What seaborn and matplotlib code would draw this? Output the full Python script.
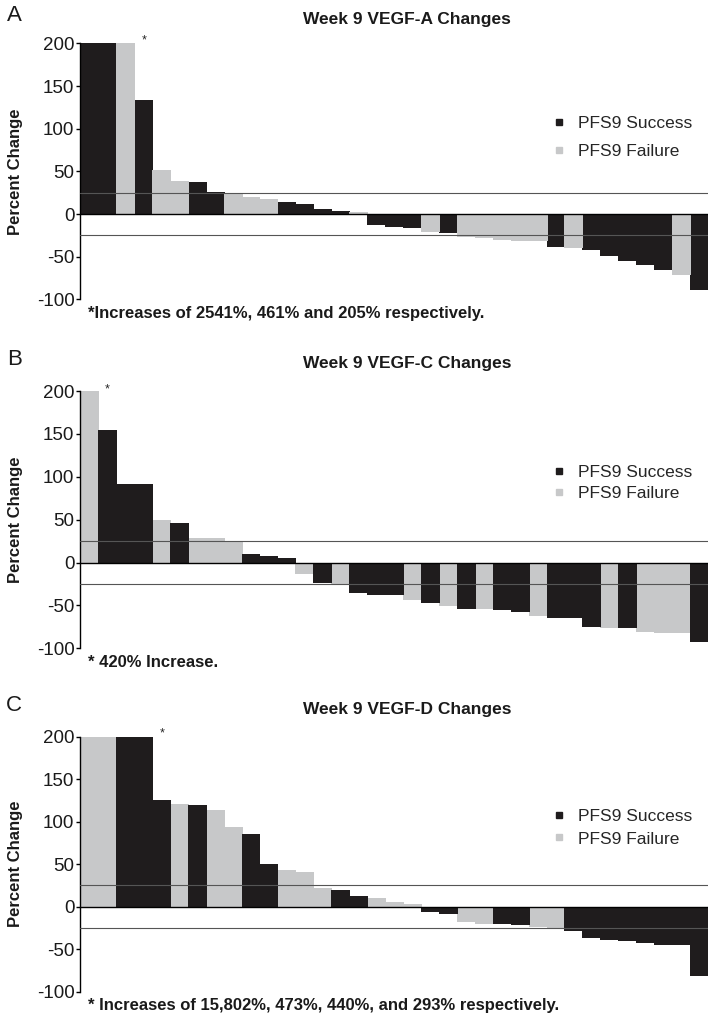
import numpy as np
import pandas as pd
import matplotlib
matplotlib.use("Agg")
import matplotlib.pyplot as plt
from matplotlib.lines import Line2D
import seaborn as sns

# bar values (% change, sorted); values above 200 are clipped by the axis
vegf_a = [2541, 461, 205, 134, 52, 39, 38, 26, 25, 20, 17, 14, 12, 6, 3, 2,
          -12, -14, -15, -19.5, -21.5, -25.5, -27, -29, -30, -30.5, -37, -38.5,
          -40.5, -48, -54, -58.5, -65, -70.5, -87.5]
vegf_a_group = list("SSFSFFSSFFFSSSSFSSSFSFFFFFSFSSSSSFS")

vegf_c = [420, 154, 92, 91, 50, 45.5, 29, 28, 25, 10, 7.5, 5.5, -12, -23, -24,
          -34, -37, -37, -42, -46, -49, -52.5, -53.5, -54, -56.5, -61, -63, -64,
          -74, -75, -75.5, -79.5, -81, -81, -91]
vegf_c_group = list("FSSSFSFFFSSSFSFSSSFSFSFSSFSSSFSFFFS")

vegf_d = [15802, 473, 440, 293, 126, 121, 120, 114, 94, 85, 50, 43.5, 41, 22.5,
          19.5, 13, 10.5, 6, 3.5, -5, -7, -17, -19, -19, -20.5, -23, -23.5, -27,
          -35.5, -37.5, -39.5, -42, -44, -44.5, -80]
vegf_d_group = list("FFSSSFSFFSSFFFSSFFFSSFFSSFFSSSSSSSS")

titles = ["Week 9 VEGF-A Changes", "Week 9 VEGF-C Changes", "Week 9 VEGF-D Changes"]
letters = ["A", "B", "C"]
notes = ["*Increases of 2541%, 461% and 205% respectively.",
         "* 420% Increase.",
         "* Increases of 15,802%, 473%, 440%, and 293% respectively."]
star_pos = [(3.1, 203), (1.0, 202), (4.1, 204)]
ticks = [-100, -50, 0, 50, 100, 150, 200]

group_names = {"S": "PFS9 Success", "F": "PFS9 Failure"}
palette = {"PFS9 Success": "#1f1c1d", "PFS9 Failure": "#c7c8c9"}

sns.set_theme(style="white")
plt.rcParams['font.family'] = ['Liberation Sans', 'DejaVu Sans']
plt.rcParams['axes.unicode_minus'] = False

fig = plt.figure(figsize=(7.17, 10.22), dpi=100)

panels = [(vegf_a, vegf_a_group), (vegf_c, vegf_c_group), (vegf_d, vegf_d_group)]
boxes = [[0.1116, 0.7071, 0.8759, 0.2505],
         [0.1116, 0.3657, 0.8759, 0.2517],
         [0.1116, 0.0297, 0.8759, 0.2495]]
title_y = [0.9814, 0.6448, 0.3053]
letter_y = [0.9853, 0.6478, 0.3092]
legend_y = [0.632, 0.642, 0.642]
legend_sp = [0.75, 0.35, 0.4]

for i, (vals, grp) in enumerate(panels):
    df = pd.DataFrame({"patient": np.arange(len(vals)),
                       "change": vals,
                       "group": [group_names[g] for g in grp]})
    ax = fig.add_axes(boxes[i])
    sns.barplot(data=df, x="patient", y="change", hue="group", palette=palette,
                dodge=False, width=1.0, saturation=1, legend=False, ax=ax)
    for p in ax.patches:
        p.set_edgecolor(p.get_facecolor())
        p.set_linewidth(0.6)
        p.set_antialiased(False)

    ax.set_xlim(-0.5, len(vals) - 0.5)
    ax.set_ylim(-100, 200)
    ax.set_yticks(ticks)
    ax.set_xticks([])
    ax.set_xlabel("")
    ax.set_ylabel("")
    for s in ["top", "right", "bottom"]:
        ax.spines[s].set_visible(False)
    ax.spines["left"].set_color("black")
    ax.spines["left"].set_linewidth(1.0)
    ax.tick_params(axis="y", left=True, length=3, width=1, pad=1,
                   labelsize=13.5, color="black", labelcolor="#1a1a1a")

    ax.axhline(0, color="black", lw=1.0, zorder=5)
    ax.axhline(25, color="#555555", lw=0.8, zorder=5)
    ax.axhline(-25, color="#555555", lw=0.8, zorder=5)

    ax.text(star_pos[i][0], star_pos[i][1], "*", fontsize=9, ha="center",
            va="center", clip_on=False)
    ax.text(0.013, -0.055, notes[i], transform=ax.transAxes, fontsize=12,
            fontweight="bold", ha="left", va="center", color="#1a1a1a")

    handles = [Line2D([], [], marker="s", linestyle="none", markersize=4,
                      color=palette[k]) for k in ["PFS9 Success", "PFS9 Failure"]]
    ax.legend(handles, ["PFS9 Success", "PFS9 Failure"], loc="center left",
              bbox_to_anchor=(0.752, legend_y[i]), frameon=False, fontsize=12.5,
              handlelength=0.8, handletextpad=0.7, borderpad=0, borderaxespad=0,
              labelspacing=legend_sp[i])

    b = boxes[i]
    fig.text(0.021, b[1] + b[3] / 2, "Percent Change", rotation=90, ha="center",
             va="center", fontsize=12, fontweight="bold", color="#1a1a1a")
    fig.text(0.568, title_y[i], titles[i], ha="center", va="center",
             fontsize=12.5, fontweight="bold", color="#1a1a1a")
    fig.text(0.02, letter_y[i], letters[i], ha="center", va="center",
             fontsize=16, color="#1a1a1a")

fig.savefig("out.png", dpi=100)
